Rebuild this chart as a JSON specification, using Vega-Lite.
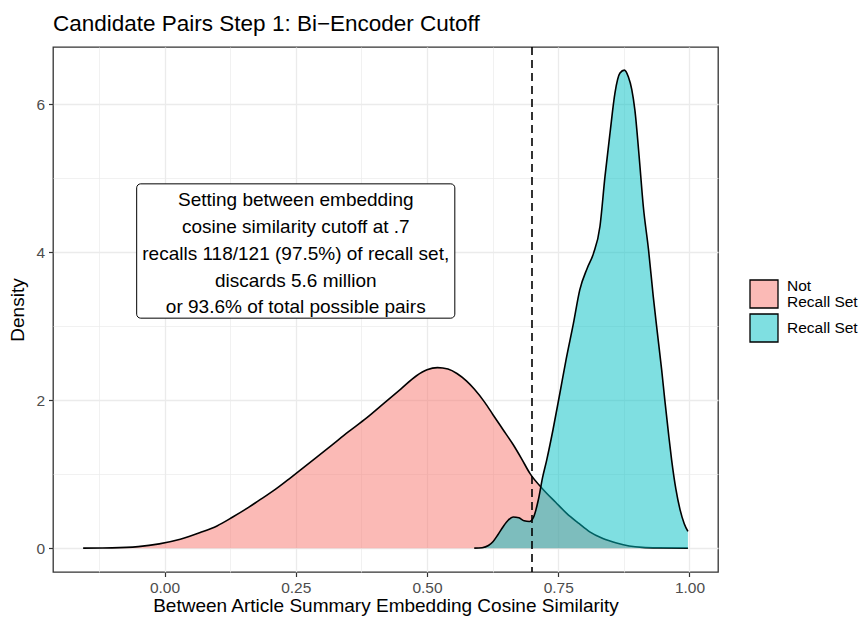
{
  "$schema": "https://vega.github.io/schema/vega-lite/v6.json",
  "width": 665,
  "height": 525,
  "autosize": {"type": "none"},
  "padding": {"left": 53, "top": 47, "right": 141, "bottom": 46},
  "background": "white",
  "config": {
    "font": "Liberation Sans",
    "view": {"stroke": "#333333", "strokeWidth": 1.3},
    "axis": {
      "domain": false,
      "grid": true,
      "gridColor": "#EBEBEB",
      "labelColor": "#4D4D4D",
      "labelFontSize": 15.5,
      "labelFont": "Liberation Sans",
      "tickColor": "#333333",
      "tickSize": 4.5,
      "tickWidth": 1.2,
      "labelPadding": 4,
      "titleFont": "Liberation Sans",
      "titleFontSize": 19,
      "titleFontWeight": "normal",
      "titleColor": "#000000"
    }
  },
  "title": {
    "text": "Candidate Pairs Step 1: Bi−Encoder Cutoff",
    "anchor": "start",
    "frame": "group",
    "font": "Liberation Sans",
    "fontSize": 22.5,
    "fontWeight": "normal",
    "color": "#000000",
    "baseline": "alphabetic",
    "offset": 16,
    "dy": 23
  },
  "datasets": {
    "dens": [
      {"group": "Not Recall Set", "x": -0.155, "density": 0},
      {"group": "Not Recall Set", "x": -0.10, "density": 0.003},
      {"group": "Not Recall Set", "x": -0.05, "density": 0.02},
      {"group": "Not Recall Set", "x": -0.01, "density": 0.058},
      {"group": "Not Recall Set", "x": 0.03, "density": 0.12},
      {"group": "Not Recall Set", "x": 0.068, "density": 0.21},
      {"group": "Not Recall Set", "x": 0.10, "density": 0.30},
      {"group": "Not Recall Set", "x": 0.13, "density": 0.42},
      {"group": "Not Recall Set", "x": 0.16, "density": 0.55},
      {"group": "Not Recall Set", "x": 0.18, "density": 0.645},
      {"group": "Not Recall Set", "x": 0.20, "density": 0.74},
      {"group": "Not Recall Set", "x": 0.22, "density": 0.84},
      {"group": "Not Recall Set", "x": 0.24, "density": 0.95},
      {"group": "Not Recall Set", "x": 0.258, "density": 1.05},
      {"group": "Not Recall Set", "x": 0.29, "density": 1.23},
      {"group": "Not Recall Set", "x": 0.32, "density": 1.40},
      {"group": "Not Recall Set", "x": 0.35, "density": 1.57},
      {"group": "Not Recall Set", "x": 0.385, "density": 1.76},
      {"group": "Not Recall Set", "x": 0.42, "density": 1.97},
      {"group": "Not Recall Set", "x": 0.45, "density": 2.15},
      {"group": "Not Recall Set", "x": 0.48, "density": 2.33},
      {"group": "Not Recall Set", "x": 0.50, "density": 2.41},
      {"group": "Not Recall Set", "x": 0.52, "density": 2.44},
      {"group": "Not Recall Set", "x": 0.54, "density": 2.42},
      {"group": "Not Recall Set", "x": 0.557, "density": 2.36},
      {"group": "Not Recall Set", "x": 0.575, "density": 2.26},
      {"group": "Not Recall Set", "x": 0.59, "density": 2.15},
      {"group": "Not Recall Set", "x": 0.61, "density": 1.97},
      {"group": "Not Recall Set", "x": 0.626, "density": 1.80},
      {"group": "Not Recall Set", "x": 0.645, "density": 1.60},
      {"group": "Not Recall Set", "x": 0.664, "density": 1.40},
      {"group": "Not Recall Set", "x": 0.68, "density": 1.21},
      {"group": "Not Recall Set", "x": 0.696, "density": 1.01},
      {"group": "Not Recall Set", "x": 0.7216, "density": 0.79},
      {"group": "Not Recall Set", "x": 0.745, "density": 0.62},
      {"group": "Not Recall Set", "x": 0.766, "density": 0.47},
      {"group": "Not Recall Set", "x": 0.79, "density": 0.33},
      {"group": "Not Recall Set", "x": 0.81, "density": 0.22},
      {"group": "Not Recall Set", "x": 0.835, "density": 0.13},
      {"group": "Not Recall Set", "x": 0.861, "density": 0.07},
      {"group": "Not Recall Set", "x": 0.885, "density": 0.03},
      {"group": "Not Recall Set", "x": 0.91, "density": 0.01},
      {"group": "Not Recall Set", "x": 0.94, "density": 0.003},
      {"group": "Not Recall Set", "x": 0.997, "density": 0},
      {"group": "Recall Set", "x": 0.59, "density": 0},
      {"group": "Recall Set", "x": 0.605, "density": 0.006},
      {"group": "Recall Set", "x": 0.617, "density": 0.035},
      {"group": "Recall Set", "x": 0.626, "density": 0.09},
      {"group": "Recall Set", "x": 0.635, "density": 0.18},
      {"group": "Recall Set", "x": 0.645, "density": 0.29},
      {"group": "Recall Set", "x": 0.655, "density": 0.38},
      {"group": "Recall Set", "x": 0.664, "density": 0.42},
      {"group": "Recall Set", "x": 0.675, "density": 0.41},
      {"group": "Recall Set", "x": 0.685, "density": 0.37},
      {"group": "Recall Set", "x": 0.695, "density": 0.36},
      {"group": "Recall Set", "x": 0.703, "density": 0.42},
      {"group": "Recall Set", "x": 0.712, "density": 0.65},
      {"group": "Recall Set", "x": 0.72, "density": 0.95},
      {"group": "Recall Set", "x": 0.728, "density": 1.19},
      {"group": "Recall Set", "x": 0.74, "density": 1.6},
      {"group": "Recall Set", "x": 0.753, "density": 2.09},
      {"group": "Recall Set", "x": 0.765, "density": 2.55},
      {"group": "Recall Set", "x": 0.779, "density": 3.04},
      {"group": "Recall Set", "x": 0.791, "density": 3.49},
      {"group": "Recall Set", "x": 0.805, "density": 3.78},
      {"group": "Recall Set", "x": 0.817, "density": 3.98},
      {"group": "Recall Set", "x": 0.8295, "density": 4.35},
      {"group": "Recall Set", "x": 0.839, "density": 5.02},
      {"group": "Recall Set", "x": 0.8486, "density": 5.61},
      {"group": "Recall Set", "x": 0.858, "density": 6.15},
      {"group": "Recall Set", "x": 0.8676, "density": 6.42},
      {"group": "Recall Set", "x": 0.876, "density": 6.46},
      {"group": "Recall Set", "x": 0.8835, "density": 6.37},
      {"group": "Recall Set", "x": 0.89, "density": 6.2},
      {"group": "Recall Set", "x": 0.896, "density": 5.92},
      {"group": "Recall Set", "x": 0.904, "density": 5.3},
      {"group": "Recall Set", "x": 0.912, "density": 4.62},
      {"group": "Recall Set", "x": 0.922, "density": 4.03},
      {"group": "Recall Set", "x": 0.931, "density": 3.40},
      {"group": "Recall Set", "x": 0.9375, "density": 2.99},
      {"group": "Recall Set", "x": 0.947, "density": 2.41},
      {"group": "Recall Set", "x": 0.953, "density": 2.0},
      {"group": "Recall Set", "x": 0.96, "density": 1.55},
      {"group": "Recall Set", "x": 0.966, "density": 1.19},
      {"group": "Recall Set", "x": 0.974, "density": 0.8},
      {"group": "Recall Set", "x": 0.982, "density": 0.52},
      {"group": "Recall Set", "x": 0.99, "density": 0.33},
      {"group": "Recall Set", "x": 0.997, "density": 0.225}
    ],
    "annot": [
      {"x": 0.25, "y": 3.98, "xmin": -0.053, "xmax": 0.553, "ymin": 3.108, "ymax": 4.923,
       "label": "Setting between embedding\ncosine similarity cutoff at .7\nrecalls 118/121 (97.5%) of recall set,\ndiscards 5.6 million\nor 93.6% of total possible pairs"}
    ],
    "cutoff": [{"x": 0.7}]
  },
  "layer": [
    {
      "data": {"name": "dens"},
      "transform": [{"filter": "datum.group == 'Not Recall Set'"}],
      "mark": {"type": "area", "interpolate": "monotone", "fillOpacity": 0.5},
      "encoding": {
        "x": {"field": "x", "type": "quantitative",
              "scale": {"domain": [-0.2124, 1.0543], "nice": false, "zero": false},
              "axis": {
                "values": [-0.125, 0, 0.125, 0.25, 0.375, 0.5, 0.625, 0.75, 0.875, 1],
                "labelExpr": "abs(datum.value*4 - round(datum.value*4)) > 0.01 ? '' : format(datum.value, '.2f')",
                "tickOpacity": {"condition": {"test": "abs(datum.value*4 - round(datum.value*4)) > 0.01", "value": 0}, "value": 1},
                "gridWidth": {"condition": {"test": "abs(datum.value*4 - round(datum.value*4)) > 0.01", "value": 0.7}, "value": 1.3},
                "title": "Between Article Summary Embedding Cosine Similarity",
                "titlePadding": 0
              }},
        "y": {"field": "density", "type": "quantitative", "stack": null,
              "scale": {"domain": [-0.3225, 6.7725], "nice": false, "zero": false},
              "axis": {
                "values": [0, 1, 2, 3, 4, 5, 6],
                "labelExpr": "datum.value % 2 == 1 ? '' : format(datum.value, 'd')",
                "tickOpacity": {"condition": {"test": "datum.value % 2 == 1", "value": 0}, "value": 1},
                "gridWidth": {"condition": {"test": "datum.value % 2 == 1", "value": 0.7}, "value": 1.3},
                "title": "Density",
                "titlePadding": 8
              }},
        "color": {"field": "group", "type": "nominal",
                  "scale": {"domain": ["Not Recall Set", "Recall Set"], "range": ["#F8766D", "#00BFC4"]},
                  "legend": {
                    "title": null,
                    "orient": "none",
                    "legendX": 696,
                    "legendY": 232,
                    "padding": 0,
                    "symbolType": "square",
                    "symbolSize": 784,
                    "symbolStrokeColor": "#000000",
                    "symbolStrokeWidth": 1.3,
                    "labelFontSize": 15.5,
                    "labelColor": "#000000",
                    "labelFont": "Liberation Sans",
                    "labelOffset": 8,
                    "rowPadding": 0,
                    "labelExpr": "datum.label == 'Not Recall Set' ? ['Not', 'Recall Set'] : datum.label",
                    "encode": {
                      "symbols": {"update": {"fillOpacity": {"value": 0.5}, "strokeOpacity": {"value": 1}, "stroke": {"value": "#000000"}}},
                      "labels": {"update": {"lineHeight": {"value": 16}, "dy": {"signal": "datum.value == 'Not Recall Set' ? -8 : 0"}}}
                    }
                  }}
      }
    },
    {
      "data": {"name": "dens"},
      "transform": [{"filter": "datum.group == 'Not Recall Set'"}],
      "mark": {"type": "line", "interpolate": "monotone", "color": "black", "strokeWidth": 1.6},
      "encoding": {
        "x": {"field": "x", "type": "quantitative"},
        "y": {"field": "density", "type": "quantitative"}
      }
    },
    {
      "data": {"name": "dens"},
      "transform": [{"filter": "datum.group == 'Recall Set'"}],
      "mark": {"type": "area", "interpolate": "monotone", "fillOpacity": 0.5},
      "encoding": {
        "x": {"field": "x", "type": "quantitative"},
        "y": {"field": "density", "type": "quantitative", "stack": null},
        "color": {"field": "group", "type": "nominal"}
      }
    },
    {
      "data": {"name": "dens"},
      "transform": [{"filter": "datum.group == 'Recall Set'"}],
      "mark": {"type": "line", "interpolate": "monotone", "color": "black", "strokeWidth": 1.6},
      "encoding": {
        "x": {"field": "x", "type": "quantitative"},
        "y": {"field": "density", "type": "quantitative"}
      }
    },
    {
      "data": {"name": "annot"},
      "mark": {"type": "rect", "fill": "white", "stroke": "black", "strokeWidth": 1, "cornerRadius": 4},
      "encoding": {
        "x": {"field": "xmin", "type": "quantitative"},
        "x2": {"field": "xmax"},
        "y": {"field": "ymin", "type": "quantitative"},
        "y2": {"field": "ymax"}
      }
    },
    {
      "data": {"name": "annot"},
      "mark": {"type": "text", "align": "center", "baseline": "middle", "fontSize": 19, "lineHeight": 26.9,
               "lineBreak": "\n", "font": "Liberation Sans", "color": "black", "dy": -53.8},
      "encoding": {
        "x": {"field": "x", "type": "quantitative"},
        "y": {"field": "y", "type": "quantitative"},
        "text": {"field": "label"}
      }
    },
    {
      "data": {"name": "cutoff"},
      "mark": {"type": "rule", "strokeDash": [8, 5], "strokeWidth": 1.6, "color": "black"},
      "encoding": {
        "x": {"field": "x", "type": "quantitative"}
      }
    }
  ]
}
